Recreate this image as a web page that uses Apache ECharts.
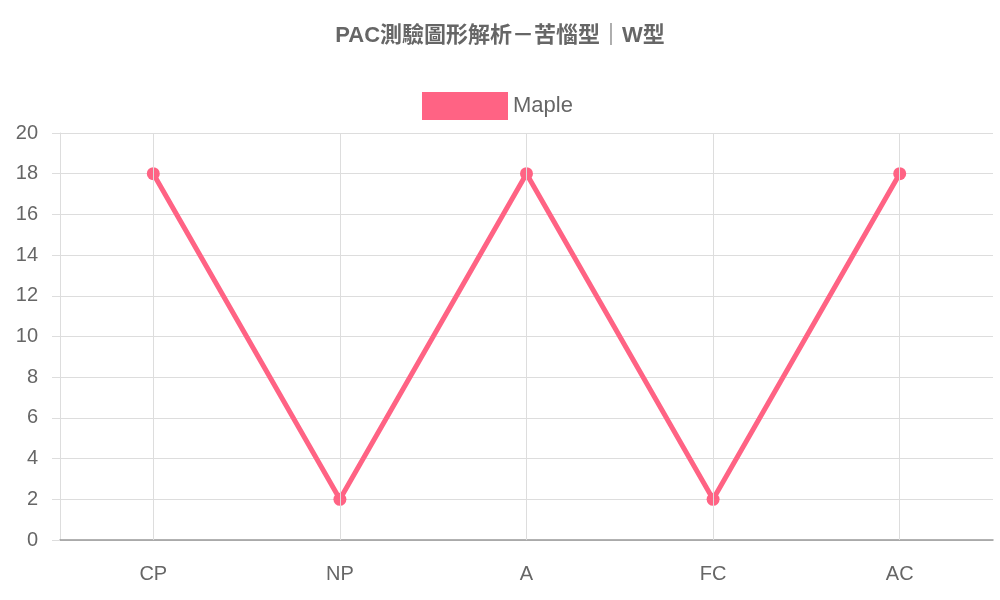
<!DOCTYPE html>
<html><head><meta charset="utf-8">
<script src="https://cdn.jsdelivr.net/npm/echarts@6/dist/echarts.min.js"></script>
<style>html,body{margin:0;padding:0;background:#fff}#c{width:1000px;height:600px}</style>
</head><body><div id="c"></div>
<script>
const categories = ['CP','NP','A','FC','AC'];
const values = [18,2,18,2,18];
const seriesName = 'Maple';
const chart = echarts.init(document.getElementById('c'));
const font = '"Liberation Sans", Arial, sans-serif';
chart.setOption({
  animation:false,
  title:{text:'PAC測驗圖形解析－苦惱型｜W型',left:'center',top:20,textStyle:{color:'#666',fontSize:22,fontWeight:'bold',fontFamily:font+', "Noto Sans CJK TC"'}},
  legend:{top:87,left:417,itemWidth:86,itemHeight:28,itemGap:10,icon:'rect',textStyle:{color:'#666',fontSize:22,fontFamily:font},data:[seriesName]},
  grid:{left:60,right:7,top:133,bottom:60},
  xAxis:{type:'category',data:categories,boundaryGap:true,
    axisLine:{lineStyle:{color:'#999',width:1.5}},axisTick:{show:false},
    axisLabel:{color:'#666',fontSize:20,margin:24,fontFamily:font},splitLine:{show:false}},
  yAxis:{type:'value',min:0,max:20,interval:2,
    axisLine:{show:true,lineStyle:{color:'#ddd'}},axisTick:{show:true,length:8,lineStyle:{color:'#ddd'}},
    axisLabel:{color:'#666',fontSize:20,margin:22,fontFamily:font},splitLine:{lineStyle:{color:'#ddd'}}},
  series:[{name:seriesName,type:'line',data:values,
    itemStyle:{color:'#ff6384'},lineStyle:{color:'#ff6384',width:5},
    symbol:'circle',symbolSize:13,
    markLine:{silent:true,symbol:'none',label:{show:false},lineStyle:{color:'#ddd',type:'solid',width:1},
      data:categories.map(c=>({xAxis:c}))}}]
});
</script></body></html>
